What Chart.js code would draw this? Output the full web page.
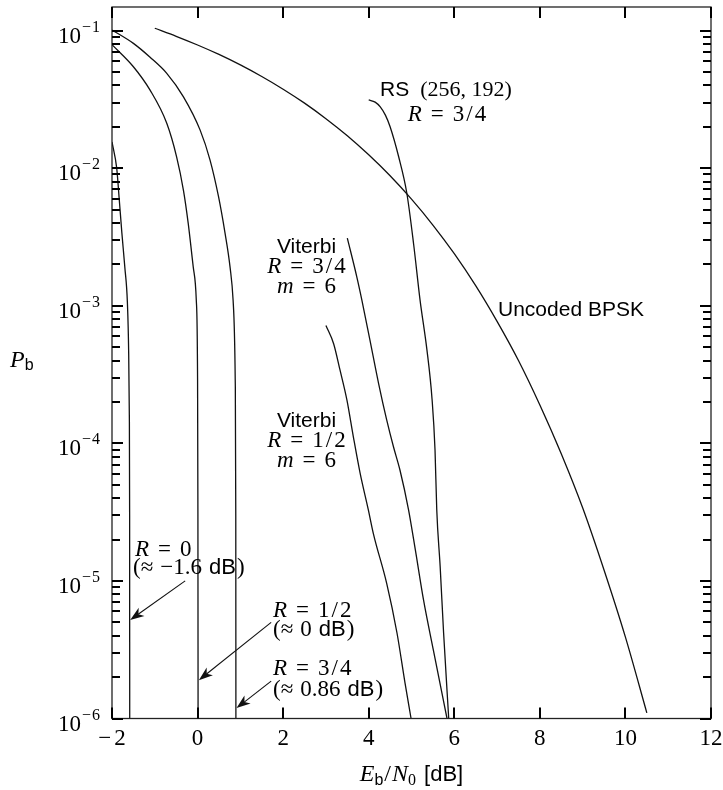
<!DOCTYPE html>
<html>
<head>
<meta charset="utf-8">
<script src="https://cdn.jsdelivr.net/npm/chart.js@4.4.1/dist/chart.umd.min.js"></script>
<style>
  html, body { margin: 0; padding: 0; background: #fff; }
  #wrap { width: 723px; height: 790px; position: relative; }
</style>
</head>
<body>
<div id="wrap"><canvas id="chart"></canvas></div>
<script>
// axis ticks
const xTicks = [-2, 0, 2, 4, 6, 8, 10, 12];
const yDecades = [-6, -5, -4, -3, -2, -1];
const yMinorSteps = [2, 3, 4, 5, 6, 7, 8, 9];

// uncoded BPSK
const bpskX = [-1, -0.5, 0, 0.5, 1, 1.5, 2, 2.5, 3, 3.5, 4, 4.5, 5, 5.5, 6, 6.5, 7, 7.5, 8, 8.5, 9, 9.5, 10, 10.5];
const bpskY = [0.104, 0.0909, 0.0786, 0.0671, 0.0563, 0.0464, 0.0375, 0.0297, 0.0229, 0.0172, 0.0125, 0.0088,
  0.00595, 0.00386, 0.00239, 0.0014, 7.7e-4, 4.0e-4, 1.9e-4, 8.4e-5, 3.4e-5, 1.2e-5, 3.9e-6, 1.1e-6];

// limit curves, R = 0, 1/2, 3/4
const limR0X = [-2, -1.89, -1.83, -1.77, -1.70, -1.64, -1.61, -1.595, -1.588, -1.586];
const limR0Y = [0.0155, 0.0100, 5.9e-3, 3.4e-3, 1.9e-3, 1.05e-3, 4.5e-4, 1.6e-4, 3e-5, 1e-6];
const limR12X = [-2, -1.5, -1.11, -0.72, -0.49, -0.33, -0.22, -0.10, -0.03, 0.0, 0.008, 0.012];
const limR12Y = [0.079, 0.0546, 0.0369, 0.0212, 0.0121, 6.9e-3, 4.0e-3, 1.9e-3, 1.1e-3, 2.9e-4, 3e-5, 1e-6];
const limR34X = [-2, -1.5, -1.11, -0.72, -0.33, 0.06, 0.29, 0.49, 0.64, 0.76, 0.83, 0.88, 0.893, 0.896];
const limR34Y = [0.101, 0.0807, 0.064, 0.0489, 0.033, 0.0189, 0.0115, 6.2e-3, 3.4e-3, 1.9e-3, 1.1e-3, 2.9e-4, 3e-5, 1e-6];

// Viterbi R = 1/2 and R = 3/4, m = 6
const vit12X = [3.0, 3.18, 3.33, 3.49, 3.64, 3.80, 3.99, 4.11, 4.42, 4.66, 4.85, 4.99];
const vit12Y = [7.2e-4, 5.3e-4, 3.4e-4, 2.07e-4, 1.12e-4, 6.05e-5, 3.3e-5, 2.2e-5, 9.6e-6, 4.2e-6, 1.8e-6, 1e-6];
const vit34X = [3.50, 3.72, 3.84, 4.03, 4.23, 4.42, 4.58, 4.73, 4.93, 5.09, 5.28, 5.51, 5.83];
const vit34Y = [3.1e-3, 1.63e-3, 1.1e-3, 5.6e-4, 2.73e-4, 1.48e-4, 9.4e-5, 6.4e-5, 3.3e-5, 1.68e-5, 7.3e-6, 3.15e-6, 1e-6];

// RS (256,192)
const rsX = [4.0, 4.15, 4.27, 4.39, 4.50, 4.70, 4.89, 5.05, 5.20, 5.36, 5.48, 5.55, 5.59, 5.67, 5.75, 5.87];
const rsY = [0.0313, 0.0302, 0.0279, 0.0243, 0.020, 0.0121, 6.6e-3, 2.8e-3, 1.1e-3, 4.8e-4, 2.1e-4, 8.9e-5, 3.3e-5, 1.27e-5, 4.2e-6, 1e-6];

const SERIF = '"Liberation Serif", "Times New Roman", serif';
const SANS = '"Liberation Sans", Arial, sans-serif';
const MATH = 23;

function font(size, fam, italic) {
  return (italic ? "italic " : "") + size + "px " + fam;
}

function series(xs, ys) {
  return {
    data: xs.map((x, i) => ({ x, y: ys[i] })),
    borderColor: "#111",
    borderWidth: 1.3,
    pointRadius: 0,
    tension: 0.4,
    cubicInterpolationMode: "monotone",
    showLine: true,
    fill: false,
  };
}

// draw a list of text runs side by side
function drawRuns(ctx, runs, x, y, align) {
  let w = 0;
  runs.forEach((r) => {
    ctx.font = r.font;
    w += (r.gap || 0) + ctx.measureText(r.t).width;
  });
  let cx = align === "right" ? x - w : align === "center" ? x - w / 2 : x;
  runs.forEach((r) => {
    ctx.font = r.font;
    cx += r.gap || 0;
    ctx.fillText(r.t, cx, y + (r.dy || 0));
    cx += ctx.measureText(r.t).width;
  });
}

function eqRuns(name, rhs) {
  const runs = [
    { t: name, font: font(MATH, SERIF, true) },
    { t: "=", font: font(MATH, SERIF), gap: 9 },
  ];
  const parts = rhs.split("/");
  runs.push({ t: parts[0], font: font(MATH, SERIF), gap: 9 });
  if (parts.length > 1) {
    runs.push({ t: "/", font: font(MATH, SERIF), gap: 2 });
    runs.push({ t: parts[1], font: font(MATH, SERIF), gap: 2 });
  }
  return runs;
}

function approxRuns(val) {
  return [
    { t: "(", font: font(MATH, SERIF) },
    { t: "\u2248", font: font(MATH, SERIF) },
    { t: val, font: font(MATH, SERIF), gap: 7 },
    { t: "dB", font: font(22, SANS), gap: 7 },
    { t: ")", font: font(MATH, SERIF), gap: 1 },
  ];
}

function sansRuns(t) {
  return [{ t, font: font(21, SANS) }];
}

const decorations = {
  id: "decorations",
  afterDraw(chart) {
    const { ctx, chartArea: a, scales } = chart;
    const sx = scales.x, sy = scales.y;
    ctx.save();

    // frame
    ctx.strokeStyle = "#222";
    ctx.lineWidth = 1.3;
    ctx.strokeRect(a.left, a.top, a.right - a.left, a.bottom - a.top);

    // ticks pointing inward on all four sides
    ctx.fillStyle = "#000";
    for (const v of xTicks) {
      const px = Math.round(sx.getPixelForValue(v));
      ctx.fillRect(px - 1, a.bottom - 11, 2, 11);
      ctx.fillRect(px - 1, a.top, 2, 11);
    }
    for (const d of yDecades) {
      const ticks = [[Math.pow(10, d), 11]].concat(yMinorSteps.map((k) => [k * Math.pow(10, d), 8]));
      for (const [v, len] of ticks) {
        if (v > sy.max) continue;
        const py = Math.round(sy.getPixelForValue(v));
        ctx.fillRect(a.left, py - 1, len, 2);
        ctx.fillRect(a.right - len, py - 1, len, 2);
      }
    }

    ctx.fillStyle = "#000";
    ctx.textBaseline = "alphabetic";

    // x tick labels
    xTicks.forEach((v) => {
      const px = sx.getPixelForValue(v);
      const runs = v < 0
        ? [{ t: "\u2212", font: font(23, SERIF) }, { t: String(-v), font: font(23, SERIF), gap: 3 }]
        : [{ t: String(v), font: font(23, SERIF) }];
      drawRuns(ctx, runs, px, a.bottom + 26, "center");
    });

    // y tick labels
    yDecades.forEach((d) => {
      const py = sy.getPixelForValue(Math.pow(10, d));
      drawRuns(ctx, [
        { t: "10", font: font(23, SERIF) },
        { t: "\u2212", font: font(16, SERIF), dy: -11, gap: 1 },
        { t: String(-d), font: font(16, SERIF), dy: -11, gap: 1 },
      ], 100, py + 12, "right");
    });

    // axis titles
    drawRuns(ctx, [
      { t: "E", font: font(24, SERIF, true) },
      { t: "b", font: font(16, SANS), dy: 3.5, gap: 0 },
      { t: "/", font: font(24, SERIF), gap: 1 },
      { t: "N", font: font(24, SERIF, true), gap: 1 },
      { t: "0", font: font(16, SERIF), dy: 3.5 },
      { t: "[dB]", font: font(22, SANS), gap: 8 },
    ], (a.left + a.right) / 2, 781, "center");
    drawRuns(ctx, [
      { t: "P", font: font(24, SERIF, true) },
      { t: "b", font: font(16, SANS), dy: 3, gap: 0 },
    ], 10, 366.5, "left");

    // curve labels
    drawRuns(ctx, [
      { t: "RS", font: font(21, SANS) },
      { t: "(256, 192)", font: font(22, SERIF), gap: 11 },
    ], 446, 96, "center");
    drawRuns(ctx, eqRuns("R", "3/4"), 447, 121, "center");

    drawRuns(ctx, sansRuns("Viterbi"), 306.5, 253, "center");
    drawRuns(ctx, eqRuns("R", "3/4"), 306.5, 273, "center");
    drawRuns(ctx, eqRuns("m", "6"), 306.5, 293, "center");

    drawRuns(ctx, sansRuns("Viterbi"), 306.5, 427, "center");
    drawRuns(ctx, eqRuns("R", "1/2"), 306.5, 447, "center");
    drawRuns(ctx, eqRuns("m", "6"), 306.5, 467, "center");

    drawRuns(ctx, sansRuns("Uncoded BPSK"), 498, 316, "left");

    drawRuns(ctx, eqRuns("R", "0"), 135, 556, "left");
    drawRuns(ctx, approxRuns("\u22121.6"), 133, 574, "left");
    drawRuns(ctx, eqRuns("R", "1/2"), 273, 617, "left");
    drawRuns(ctx, approxRuns("0"), 273, 636, "left");
    drawRuns(ctx, eqRuns("R", "3/4"), 273, 675, "left");
    drawRuns(ctx, approxRuns("0.86"), 273, 696, "left");

    // arrows pointing at the limit lines (data coordinates)
    const arrows = [
      [-0.29, 1.0e-5, -1.575, 5.2e-6],
      [1.72, 5.0e-6, 0.03, 1.9e-6],
      [1.72, 1.87e-6, 0.91, 1.19e-6],
    ];
    ctx.strokeStyle = "#111";
    ctx.fillStyle = "#111";
    ctx.lineWidth = 1.1;
    arrows.forEach(([x0, y0, x1, y1]) => {
      const p0 = [sx.getPixelForValue(x0), sy.getPixelForValue(y0)];
      const p1 = [sx.getPixelForValue(x1), sy.getPixelForValue(y1)];
      const ang = Math.atan2(p1[1] - p0[1], p1[0] - p0[0]);
      const c = Math.cos(ang), s = Math.sin(ang);
      const hl = 14, hw = 5;
      ctx.beginPath();
      ctx.moveTo(p0[0], p0[1]);
      ctx.lineTo(p1[0] - c * hl * 0.7, p1[1] - s * hl * 0.7);
      ctx.stroke();
      ctx.beginPath();
      ctx.moveTo(p1[0], p1[1]);
      ctx.lineTo(p1[0] - c * hl - s * hw, p1[1] - s * hl + c * hw);
      ctx.lineTo(p1[0] - c * hl * 0.72, p1[1] - s * hl * 0.72);
      ctx.lineTo(p1[0] - c * hl + s * hw, p1[1] - s * hl - c * hw);
      ctx.closePath();
      ctx.fill();
    });

    ctx.restore();
  },
};

new Chart(document.getElementById("chart"), {
  type: "scatter",
  data: {
    datasets: [
      series(bpskX, bpskY),
      series(limR0X, limR0Y),
      series(limR12X, limR12Y),
      series(limR34X, limR34Y),
      series(vit12X, vit12Y),
      series(vit34X, vit34Y),
      series(rsX, rsY),
    ],
  },
  options: {
    responsive: true,
    maintainAspectRatio: false,
    animation: false,
    layout: { padding: { left: 112, top: 7, right: 12, bottom: 71.5 } },
    plugins: { legend: { display: false }, tooltip: { enabled: false } },
    scales: {
      x: { type: "linear", min: -2, max: 12, display: false },
      y: { type: "logarithmic", min: 1e-6, max: 0.1484, display: false },
    },
  },
  plugins: [decorations],
});
</script>
</body>
</html>
